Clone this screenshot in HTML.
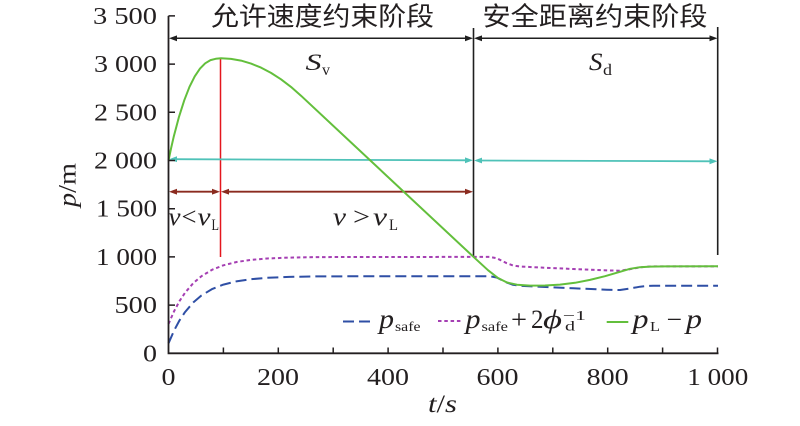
<!DOCTYPE html>
<html><head><meta charset="utf-8"><style>
html,body{margin:0;padding:0;background:#fff}svg{display:block}
.s{font-family:"Liberation Serif","Times New Roman","Nimbus Roman","Noto Serif CJK SC",serif;fill:#231f20}
.i{font-style:italic}
.c{font-family:"Liberation Sans","Noto Sans CJK SC",sans-serif;fill:#231f20}
</style></head>
<body>
<svg width="800" height="426" viewBox="0 0 800 426" xmlns="http://www.w3.org/2000/svg">
<rect width="800" height="426" fill="#fff"/>

<!-- annotation verticals -->
<line x1="473.5" y1="28" x2="473.5" y2="257" stroke="#1f1f1f" stroke-width="1.6"/>
<line x1="717.7" y1="27" x2="717.7" y2="255" stroke="#1f1f1f" stroke-width="1.6"/>
<line x1="220.5" y1="58" x2="220.5" y2="257" stroke="#e4161d" stroke-width="1.5"/>

<!-- black arrows -->
<g stroke="#1f1f1f" stroke-width="1.5" fill="none">
<line x1="172" y1="38.3" x2="470" y2="38.3"/>
<line x1="477" y1="38.3" x2="714" y2="38.3"/>
</g>
<g fill="#1f1f1f">
<polygon points="169,38.3 177,35.4 177,41.2"/>
<polygon points="473,38.3 465,35.4 465,41.2"/>
<polygon points="474,38.3 482,35.4 482,41.2"/>
<polygon points="717.5,38.3 709.5,35.4 709.5,41.2"/>
</g>

<!-- cyan arrows -->
<g stroke="#4fc2b8" stroke-width="1.8" fill="none">
<line x1="172" y1="159.2" x2="470" y2="160.3"/>
<line x1="477" y1="160.5" x2="714" y2="161.3"/>
</g>
<g fill="#4fc2b8">
<polygon points="169,159.2 177,156.3 177,162.1"/>
<polygon points="473,160.3 465,157.4 465,163.2"/>
<polygon points="474,160.5 482,157.6 482,163.4"/>
<polygon points="717.5,161.3 709.5,158.4 709.5,164.2"/>
</g>

<!-- dark red arrows -->
<g stroke="#8b2b1f" stroke-width="1.8" fill="none">
<line x1="172" y1="191.7" x2="217" y2="191.7"/>
<line x1="224" y1="191.7" x2="470" y2="191.7"/>
</g>
<g fill="#8b2b1f">
<polygon points="169,191.7 177,188.8 177,194.6"/>
<polygon points="220,191.7 212,188.8 212,194.6"/>
<polygon points="221,191.7 229,188.8 229,194.6"/>
<polygon points="473,191.7 465,188.8 465,194.6"/>
</g>

<!-- blue dashed p_safe -->
<polyline fill="none" stroke="#2f4fa5" stroke-width="2" stroke-dasharray="11 5" stroke-linejoin="round"
points="168.5,343.3 174,330.7 179.5,320.4 185,312.1 193.2,302.5 201.4,295.5 212.4,288.9 223.4,284.6 237.1,281.2 250.9,279.2 267.3,277.8 289.3,276.9 316.7,276.4 349.7,276.3 489.7,276.2 496.7,277.5 506.7,282.5 513,284.8 520,285.8 540,286.8 573.3,288.3 606.7,289.7 620,290 630,288.5 640,286.7 648,285.9 653.3,285.7 718,285.7"/>

<!-- purple dotted -->
<polyline fill="none" stroke="#a53fb3" stroke-width="2" stroke-dasharray="3.5 2.8" stroke-linejoin="round"
points="168.5,324 174,311.4 179.5,301.1 185,292.8 193.2,283.2 201.4,276.2 212.4,269.6 223.4,265.3 237.1,261.9 250.9,259.9 267.3,258.5 289.3,257.6 316.7,257.1 349.7,257 489.7,256.9 496.7,258.2 506.7,263.2 513,265.5 520,266.5 540,267.5 573.3,269 606.7,270.4 620,270.7 630,269.2 640,267.4 648,266.6 653.3,266.4 718,266.4"/>

<!-- green p_L - p -->
<polyline fill="none" stroke="#63bf3c" stroke-width="2" stroke-linejoin="round"
points="168.5,160.5 171.1,148.2 173.7,136.8 179,116.8 184.3,100.2 189.5,86.8 194.7,76.4 200,68.6 205.2,63.3 210.5,60.1 215.7,58.8 221,58.3 231,58.9 241,60.6 251,63.6 261,67.6 271,72.9 281,79.3 291,86.9 301,95.7 473.3,256.7 488,270.2 498,278 507,282.5 517,284.7 530,285.6 545,285.5 560,284.6 575,282.8 590,279.9 605,276.2 620,271.8 630,268.8 640,267.2 650,266.6 665,266.4 718,266.3"/>

<!-- axes -->
<path d="M168.5 15.9 V353.3 H718.5" fill="none" stroke="#231f20" stroke-width="1.8"/>
<path d="M168.5 353.3 H175 M168.5 305.1 H175 M168.5 256.9 H175 M168.5 208.7 H175 M168.5 160.5 H175 M168.5 112.3 H175 M168.5 64.1 H175 M168.5 15.9 H175" stroke="#231f20" stroke-width="1.5"/>
<path d="M223.4 353.3 V347.5 M278.3 353.3 V347.5 M333.2 353.3 V347.5 M388.1 353.3 V347.5 M443 353.3 V347.5 M497.9 353.3 V347.5 M552.8 353.3 V347.5 M607.7 353.3 V347.5 M662.6 353.3 V347.5 M717.5 353.3 V347.5" stroke="#231f20" stroke-width="1.5"/>

<!-- y tick labels -->
<g class="s" font-size="24.5" text-anchor="end">
<text x="157" y="361.3" textLength="14" lengthAdjust="spacingAndGlyphs">0</text>
<text x="157" y="313.1" textLength="42.5" lengthAdjust="spacingAndGlyphs">500</text>
<text x="157" y="264.9" textLength="61" lengthAdjust="spacingAndGlyphs">1 000</text>
<text x="157" y="216.7" textLength="61" lengthAdjust="spacingAndGlyphs">1 500</text>
<text x="157" y="168.5" textLength="63" lengthAdjust="spacingAndGlyphs">2 000</text>
<text x="157" y="120.3" textLength="63" lengthAdjust="spacingAndGlyphs">2 500</text>
<text x="157" y="72.1" textLength="63" lengthAdjust="spacingAndGlyphs">3 000</text>
<text x="157" y="23.9" textLength="64" lengthAdjust="spacingAndGlyphs">3 500</text>
</g>

<!-- x tick labels -->
<g class="s" font-size="24.5" text-anchor="middle">
<text x="168.5" y="385" textLength="14" lengthAdjust="spacingAndGlyphs">0</text>
<text x="278" y="385" textLength="42" lengthAdjust="spacingAndGlyphs">200</text>
<text x="388" y="385" textLength="42" lengthAdjust="spacingAndGlyphs">400</text>
<text x="497.5" y="385" textLength="42" lengthAdjust="spacingAndGlyphs">600</text>
<text x="607.7" y="385" textLength="42" lengthAdjust="spacingAndGlyphs">800</text>
<text x="717.8" y="385" textLength="61" lengthAdjust="spacingAndGlyphs">1 000</text>
</g>

<!-- axis titles -->
<g class="s" font-size="25">
<text x="428" y="412" textLength="29" lengthAdjust="spacingAndGlyphs"><tspan class="i">t</tspan>/<tspan class="i">s</tspan></text>
<text transform="translate(75.5,185) rotate(-90)" text-anchor="middle" textLength="44" lengthAdjust="spacingAndGlyphs"><tspan class="i">p</tspan>/m</text>
</g>

<!-- Chinese titles -->
<g class="c" font-size="26">
<text x="211" y="25.5" textLength="223" lengthAdjust="spacingAndGlyphs">允许速度约束阶段</text>
<text x="482.5" y="25.5" textLength="225" lengthAdjust="spacingAndGlyphs">安全距离约束阶段</text>
</g>

<!-- annotations S_v, S_d, v<vL, v>vL -->
<g class="s">
<text class="i" x="305.5" y="70" font-size="23" textLength="16" lengthAdjust="spacingAndGlyphs">S</text>
<text x="322" y="75" font-size="16" textLength="8" lengthAdjust="spacingAndGlyphs">v</text>
<text class="i" x="589" y="70" font-size="25" textLength="13.5" lengthAdjust="spacingAndGlyphs">S</text>
<text x="603" y="75" font-size="16" textLength="9" lengthAdjust="spacingAndGlyphs">d</text>

<text class="i" x="168.5" y="225" font-size="25" textLength="12" lengthAdjust="spacingAndGlyphs">v</text>
<text x="181.5" y="225" font-size="25" textLength="15" lengthAdjust="spacingAndGlyphs">&lt;</text>
<text class="i" x="197.5" y="225" font-size="25" textLength="13" lengthAdjust="spacingAndGlyphs">v</text>
<text x="211.5" y="230" font-size="16" textLength="7.5" lengthAdjust="spacingAndGlyphs">L</text>

<text class="i" x="333" y="225" font-size="25" textLength="13" lengthAdjust="spacingAndGlyphs">v</text>
<text x="353" y="225" font-size="25" textLength="17" lengthAdjust="spacingAndGlyphs">&gt;</text>
<text class="i" x="373" y="225" font-size="25" textLength="14" lengthAdjust="spacingAndGlyphs">v</text>
<text x="389" y="230" font-size="16" textLength="9" lengthAdjust="spacingAndGlyphs">L</text>
</g>

<!-- legend -->
<line x1="343" y1="321.5" x2="371" y2="321.5" stroke="#2f4fa5" stroke-width="2" stroke-dasharray="11 5"/>
<line x1="438" y1="321" x2="461" y2="321" stroke="#a53fb3" stroke-width="2" stroke-dasharray="3.5 2.8"/>
<line x1="606.7" y1="322" x2="628.3" y2="322" stroke="#63bf3c" stroke-width="2"/>
<g class="s">
<text class="i" x="379" y="328" font-size="27" textLength="15" lengthAdjust="spacingAndGlyphs">p</text>
<text x="395" y="331" font-size="14" textLength="25.5" lengthAdjust="spacingAndGlyphs">safe</text>

<text class="i" x="465.5" y="328" font-size="27" textLength="15" lengthAdjust="spacingAndGlyphs">p</text>
<text x="481.5" y="331" font-size="14" textLength="26.5" lengthAdjust="spacingAndGlyphs">safe</text>
<text x="511" y="328" font-size="26" textLength="16" lengthAdjust="spacingAndGlyphs">+</text>
<text x="531" y="328" font-size="26" textLength="12.5" lengthAdjust="spacingAndGlyphs">2</text>
<text class="i" x="543" y="328" font-size="26" textLength="19" lengthAdjust="spacingAndGlyphs">ϕ</text>
<text x="563" y="320" font-size="14" textLength="23" lengthAdjust="spacingAndGlyphs">−1</text>
<text x="565" y="330.5" font-size="14" textLength="10" lengthAdjust="spacingAndGlyphs">d</text>

<text class="i" x="632.5" y="328" font-size="27" textLength="16" lengthAdjust="spacingAndGlyphs">p</text>
<text x="650" y="331" font-size="14" textLength="10" lengthAdjust="spacingAndGlyphs">L</text>
<text x="666.5" y="328" font-size="26" textLength="15.5" lengthAdjust="spacingAndGlyphs">−</text>
<text class="i" x="686" y="328" font-size="27" textLength="16" lengthAdjust="spacingAndGlyphs">p</text>
</g>
</svg>
</body></html>
